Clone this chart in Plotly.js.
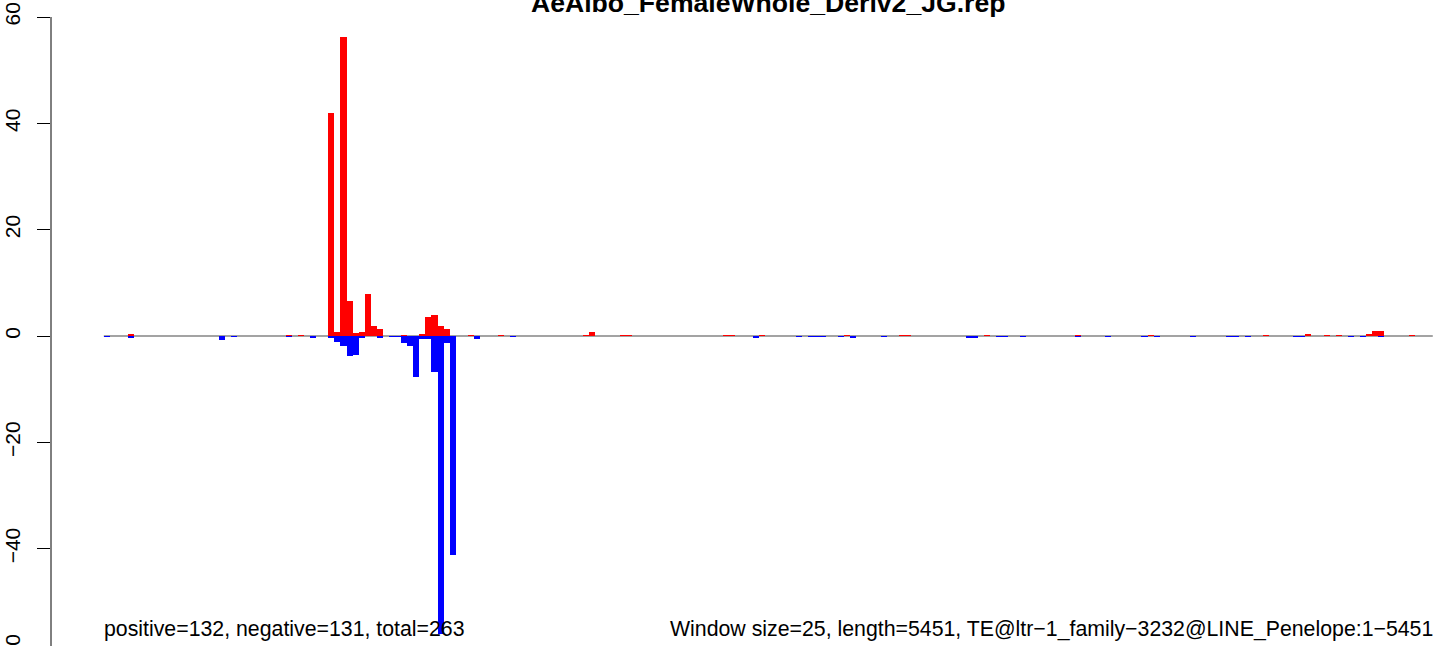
<!DOCTYPE html>
<html>
<head>
<meta charset="utf-8">
<script src="https://cdn.plot.ly/plotly-3.0.1.min.js"></script>
<style>
html, body { margin: 0; padding: 0; overflow: hidden; background: #ffffff; }
#chart { width: 1444px; height: 680px; }
</style>
</head>
<body>
<div id="chart"></div>
<script>
// ---- data ----
const chartTitle = "AeAlbo_FemaleWhole_Deriv2_JG.rep";
const windowSize = 25;
const seqLength = 5451;
const statsText = "positive=132, negative=131, total=263";
const infoText = "Window size=25, length=5451, TE@ltr\u22121_family\u22123232@LINE_Penelope:1\u22125451";

// window index (0-based) and value for the sense (red) strand
const posWindows = [4, 30, 32, 37, 38, 39, 40, 41, 42, 43, 44, 45, 49, 52, 53, 54, 55, 56, 60, 65, 79, 80, 85, 86, 102, 103, 108, 122, 131, 132, 145, 160, 172, 191, 198, 201, 203, 208, 209, 210, 215];
const posValues  = [0.3, 0.2, 0.15, 42, 0.75, 56.3, 6.6, 0.6, 0.8, 7.9, 1.9, 1.3, 0.2, 0.4, 3.5, 3.9, 1.9, 1.3, 0.2, 0.2, 0.2, 0.75, 0.15, 0.15, 0.15, 0.15, 0.15, 0.2, 0.15, 0.15, 0.2, 0.2, 0.2, 0.2, 0.4, 0.2, 0.2, 0.4, 0.9, 0.9, 0.2];

// window index (0-based) and value for the antisense (blue) strand
const negWindows = [0, 4, 19, 21, 30, 34, 37, 38, 39, 40, 41, 42, 45, 47, 48, 49, 50, 51, 52, 53, 54, 55, 56, 57, 61, 67, 107, 114, 116, 117, 118, 121, 123, 128, 142, 143, 147, 148, 151, 160, 165, 171, 173, 179, 185, 186, 188, 196, 197, 205, 207, 210];
const negValues  = [-0.2, -0.4, -0.75, -0.2, -0.2, -0.4, -0.3, -1.1, -1.8, -3.7, -3.5, -0.3, -0.3, -0.2, -0.2, -1.25, -1.8, -7.8, -0.6, -0.6, -6.7, -56.1, -1.4, -41.1, -0.5, -0.2, -0.3, -0.2, -0.2, -0.2, -0.2, -0.2, -0.3, -0.2, -0.3, -0.3, -0.2, -0.2, -0.2, -0.2, -0.2, -0.2, -0.2, -0.2, -0.2, -0.2, -0.2, -0.2, -0.2, -0.2, -0.2, -0.2];

const yTickValues = [-60, -40, -20, 0, 20, 40, 60];
const yTickLabels = ["\u221260", "\u221240", "\u221220", "0", "20", "40", "60"];

// ---- build chart ----
const nWindows = Math.ceil(seqLength / windowSize);
const xStart = 0.5, xEnd = nWindows + 0.5;
const toX = w => w + 1;  // window centre in window-index units

const traces = [
  {
    type: "bar",
    x: posWindows.map(toX),
    y: posValues,
    width: 1,
    marker: { color: "#FF0000", line: { width: 0 } },
    hoverinfo: "x+y"
  },
  {
    type: "bar",
    x: negWindows.map(toX),
    y: negValues,
    width: 1,
    marker: { color: "#0000FF", line: { width: 0 } },
    hoverinfo: "x+y"
  }
];

const FONT = "Liberation Sans, Arial, Helvetica, sans-serif";

const layout = {
  width: 1444,
  height: 680,
  margin: { l: 51, r: 0, t: 0, b: 0, pad: 0 },
  paper_bgcolor: "#ffffff",
  plot_bgcolor: "#ffffff",
  showlegend: false,
  barmode: "overlay",
  bargap: 0,
  xaxis: {
    range: [-8.2, 221.35],
    visible: false,
    fixedrange: true
  },
  yaxis: {
    range: [-64.7, 63.2],
    tickmode: "array",
    tickvals: yTickValues,
    ticktext: yTickLabels,
    tickangle: -90,
    ticks: "outside",
    ticklen: 13,
    tickwidth: 1,
    tickcolor: "#000000",
    ticklabelstandoff: 9,
    showline: false,
    showgrid: false,
    zeroline: false,
    tickfont: { family: FONT, size: 21, color: "#000000" },
    fixedrange: true
  },
  shapes: [
    {
      type: "line", layer: "below",
      xref: "x", yref: "y",
      x0: xStart, x1: xEnd, y0: 0, y1: 0,
      line: { color: "#A3A3A3", width: 2 }
    },
    {
      type: "line", layer: "above",
      xref: "paper", yref: "y",
      x0: 0, x1: 0, y0: yTickValues[0], y1: yTickValues[yTickValues.length - 1],
      line: { color: "#000000", width: 1 }
    }
  ],
  annotations: [
    {
      text: "<b>" + chartTitle + "</b>",
      xref: "x", yref: "y",
      x: (xStart + xEnd) / 2, y: 59.5,
      xanchor: "center", yanchor: "bottom",
      showarrow: false,
      font: { family: FONT, size: 26.6, color: "#000000" }
    },
    {
      text: statsText,
      xref: "x", yref: "y",
      x: xStart, y: -57.65, xshift: -2,
      xanchor: "left", yanchor: "bottom",
      showarrow: false,
      font: { family: FONT, size: 21.3, color: "#000000" }
    },
    {
      text: infoText,
      xref: "x", yref: "y",
      x: xEnd, y: -57.65, xshift: 2,
      xanchor: "right", yanchor: "bottom",
      showarrow: false,
      font: { family: FONT, size: 21.3, color: "#000000" }
    }
  ]
};

Plotly.newPlot("chart", traces, layout, { displayModeBar: false, staticPlot: true });
</script>
</body>
</html>
